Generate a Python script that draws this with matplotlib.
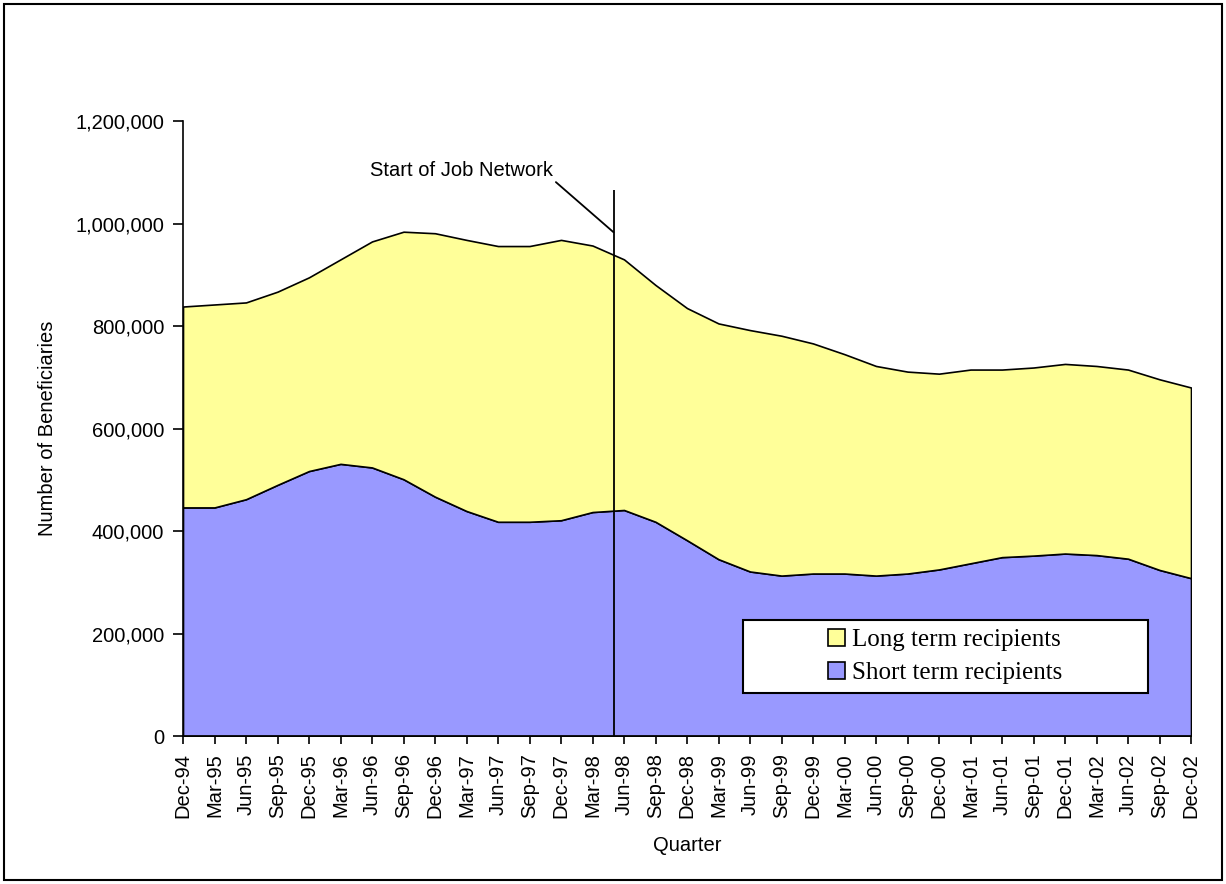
import matplotlib
matplotlib.use("Agg")
import matplotlib.pyplot as plt
from matplotlib.patches import Rectangle
from matplotlib.ticker import FuncFormatter

# Quarter labels, Dec-94 .. Dec-02
quarters = ["Dec-94", "Mar-95", "Jun-95", "Sep-95", "Dec-95", "Mar-96", "Jun-96",
            "Sep-96", "Dec-96", "Mar-97", "Jun-97", "Sep-97", "Dec-97", "Mar-98",
            "Jun-98", "Sep-98", "Dec-98", "Mar-99", "Jun-99", "Sep-99", "Dec-99",
            "Mar-00", "Jun-00", "Sep-00", "Dec-00", "Mar-01", "Jun-01", "Sep-01",
            "Dec-01", "Mar-02", "Jun-02", "Sep-02", "Dec-02"]

# beneficiaries (thousands)
short_term = [446, 446, 462, 490, 517, 531, 524, 501, 467, 439, 418, 418, 421, 437,
              441, 418, 382, 345, 321, 313, 317, 317, 313, 317, 325, 337, 349, 352,
              356, 353, 346, 324, 308]
long_term = [392, 396, 384, 377, 378, 399, 441, 483, 514, 529, 538, 538, 547, 520,
             489, 462, 453, 460, 471, 468, 449, 428, 409, 394, 382, 378, 366, 367,
             370, 369, 369, 372, 372]

series_labels = ["Short term recipients", "Long term recipients"]
series_colors = ["#9999FF", "#FFFF99"]

# Job Network started May 1998 (two thirds between Mar-98 and Jun-98)
job_network_start = 13 + 2 / 3

plt.rcParams['font.family'] = ['Liberation Sans', 'DejaVu Sans']

fig = plt.figure(figsize=(12.26, 8.84), dpi=100)
ax = fig.add_axes([183 / 1226, 1 - 736 / 884, 1008 / 1226, 615 / 884])

x = list(range(len(quarters)))
short_vals = [v * 1000 for v in short_term]
long_vals = [v * 1000 for v in long_term]

polys = ax.stackplot(x, short_vals, long_vals, colors=series_colors,
                     edgecolor='black', linewidth=1.2, zorder=2)

ax.set_xlim(0, len(quarters) - 1)
ax.set_ylim(0, 1200000)
ax.set_yticks(range(0, 1200001, 200000))
ax.yaxis.set_major_formatter(FuncFormatter(lambda v, p: f"{int(v):,}"))
ax.set_xticks(x)
ax.set_xticklabels(quarters, rotation=90)

for side in ['top', 'right']:
    ax.spines[side].set_visible(False)
for side in ['left', 'bottom']:
    ax.spines[side].set_linewidth(1.2)
    ax.spines[side].set_zorder(4)

ax.tick_params(axis='y', direction='out', length=7, width=1.2, pad=6.5, labelsize=14.5)
ax.tick_params(axis='x', direction='out', length=5.5, width=1.2, pad=7, labelsize=14.5)

ax.set_ylabel("Number of Beneficiaries", fontsize=14.5, labelpad=13)
ax.set_xlabel("Quarter", fontsize=14.5, labelpad=13)

# start of Job Network marker
ax.vlines(job_network_start, 0, 1065000, colors='black', linewidth=1.3, zorder=3)
ax.annotate("Start of Job Network", xy=(job_network_start, 983000),
            xytext=(5.94, 1104000), fontsize=14.5, va='center', ha='left',
            arrowprops=dict(arrowstyle='-', color='black', lw=1.3,
                            shrinkA=0, shrinkB=0,
                            relpos=(1.0, 0.0)))

# legend box
ax.add_patch(Rectangle((0.5556, 0.0699), 0.4014, 0.1187, transform=ax.transAxes,
                       facecolor='white', edgecolor='black', linewidth=1.5, zorder=5))
leg = ax.legend([polys[1], polys[0]], [series_labels[1], series_labels[0]],
                loc='center', bbox_to_anchor=(0.7564, 0.1293), frameon=False,
                prop={'family': ['Liberation Serif'], 'size': 18},
                handlelength=0.67, handleheight=0.67, handletextpad=0.3,
                labelspacing=0.45, borderpad=0.2)
leg.set_zorder(6)

# outer border of the chart
fig.add_artist(Rectangle((4 / 1226, 4 / 884), 1218 / 1226, 876 / 884,
                         transform=fig.transFigure, facecolor='none',
                         edgecolor='black', linewidth=1.5))

fig.savefig("out.png", dpi=100, facecolor='white')
